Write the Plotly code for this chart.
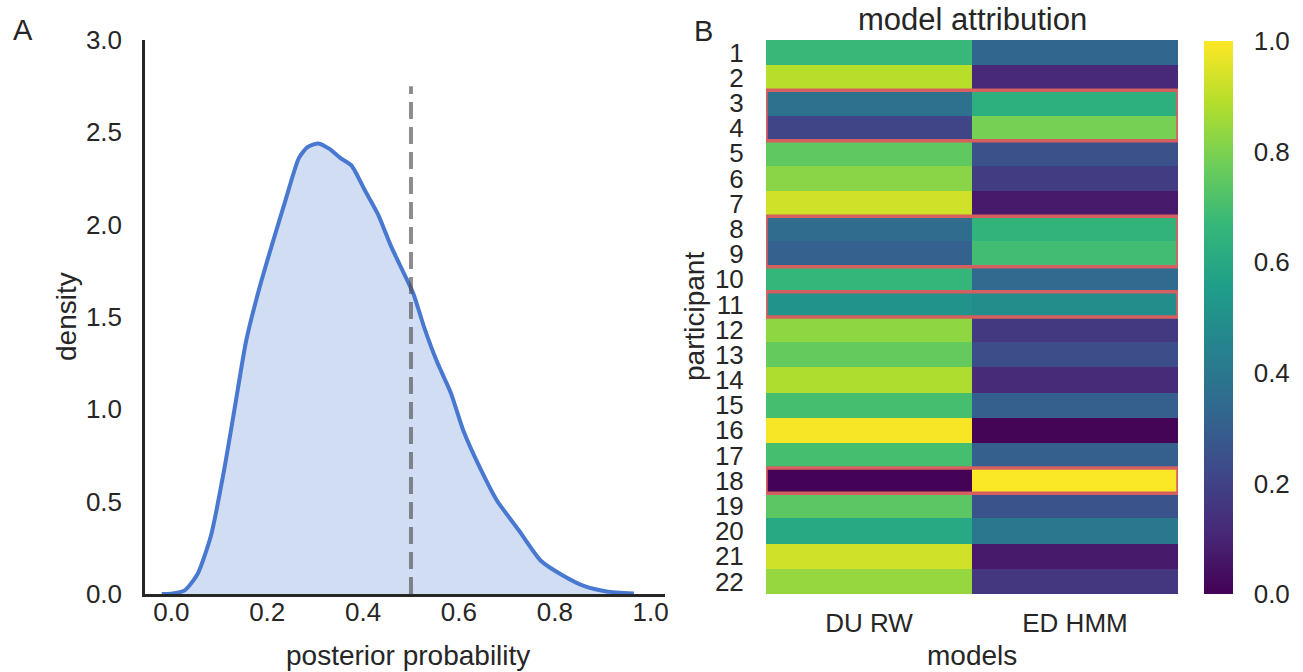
import plotly.graph_objects as go

# ---------------- data ----------------
kde_x = [-0.02, 0.0, 0.028, 0.055, 0.083, 0.11, 0.133, 0.156, 0.183, 0.211,
         0.239, 0.266, 0.284, 0.307, 0.330, 0.353, 0.376, 0.404, 0.431, 0.459,
         0.482, 0.505, 0.528, 0.555, 0.583, 0.610, 0.642, 0.679, 0.725, 0.771,
         0.817, 0.862, 0.908, 0.965]
kde_y = [0.0, 0.002, 0.02, 0.11, 0.32, 0.67, 1.02, 1.37, 1.65, 1.90,
         2.14, 2.36, 2.42, 2.44, 2.41, 2.36, 2.32, 2.185, 2.057, 1.88,
         1.754, 1.626, 1.44, 1.253, 1.09, 0.88, 0.694, 0.508, 0.345, 0.18,
         0.10, 0.042, 0.014, 0.003]
threshold_x = 0.5
threshold_top = 2.75

participants = list(range(1, 23))
models = ["DU RW", "ED HMM"]
du_rw = [0.67, 0.89, 0.37, 0.21, 0.75, 0.82, 0.93, 0.35, 0.31, 0.66, 0.51,
         0.83, 0.76, 0.88, 0.70, 0.99, 0.70, 0.005, 0.74, 0.60, 0.93, 0.84]
ed_hmm = [0.33, 0.11, 0.63, 0.79, 0.25, 0.18, 0.07, 0.65, 0.69, 0.34, 0.49,
          0.17, 0.24, 0.12, 0.30, 0.01, 0.30, 0.995, 0.26, 0.40, 0.07, 0.16]
highlight_groups = [(3, 4), (8, 9), (11, 11), (18, 18)]

x_ticks = [0.0, 0.2, 0.4, 0.6, 0.8, 1.0]
y_ticks = [0.0, 0.5, 1.0, 1.5, 2.0, 2.5, 3.0]
cbar_ticks = [0.0, 0.2, 0.4, 0.6, 0.8, 1.0]

# ---------------- figure ----------------
W, H = 1303, 672
FONT = "Liberation Sans, Arial, sans-serif"
TXT = "#262626"
TICK = 26
LAB = 28
TITLE = 31
LETTER = 29


def px_x(p):
    return p / W


def px_y(p):
    return 1 - p / H


fig = go.Figure()

fig.add_trace(go.Scatter(
    x=kde_x, y=kde_y, mode="lines",
    line=dict(color="#4878d0", width=4, shape="spline", smoothing=0.6),
    fill="tozeroy", fillcolor="rgba(72,120,208,0.25)", xaxis="x", yaxis="y",
    showlegend=False, hoverinfo="skip"))

fig.add_trace(go.Scatter(
    x=[threshold_x, threshold_x], y=[0, threshold_top], mode="lines",
    line=dict(color="rgba(80,80,80,0.65)", width=4, dash="17px,8px"),
    xaxis="x", yaxis="y", showlegend=False, hoverinfo="skip"))

z = [[a, b] for a, b in zip(du_rw, ed_hmm)]
fig.add_trace(go.Heatmap(
    z=z, x=[0, 1], y=participants, colorscale="Viridis", zmin=0, zmax=1,
    xaxis="x2", yaxis="y2", xgap=0, ygap=0,
    colorbar=dict(
        x=px_x(1204), xanchor="left", xpad=0, ypad=0,
        thickness=29, thicknessmode="pixels",
        y=px_y(594), yanchor="bottom", len=(594 - 41) / H, lenmode="fraction",
        outlinewidth=0, tickvals=cbar_ticks, ticktext=[f"{v:.1f}" for v in cbar_ticks],
        ticks="outside", ticklen=16, tickcolor="rgba(0,0,0,0)",
        tickfont=dict(size=TICK, color=TXT, family=FONT)),
    hoverinfo="skip"))

shapes = []
for a, b in highlight_groups:
    shapes.append(dict(type="rect", xref="x2", yref="y2", x0=-0.5, x1=1.5,
                       y0=a - 0.5, y1=b + 0.5,
                       line=dict(color="#d65f5f", width=3.5), fillcolor="rgba(0,0,0,0)"))

axis_common = dict(showgrid=False, zeroline=False, showline=True, linecolor="#262626",
                   linewidth=2.5, tickcolor="rgba(0,0,0,0)",
                   tickfont=dict(size=TICK, color=TXT, family=FONT))


def label(text, x, y, size, angle=0):
    return dict(text=text, x=px_x(x), y=px_y(y), xref="paper", yref="paper",
                textangle=angle, showarrow=False,
                font=dict(size=size, color=TXT, family=FONT),
                xanchor="center", yanchor="middle")


fig.update_layout(
    width=W, height=H, margin=dict(l=0, r=0, t=0, b=0, autoexpand=False),
    paper_bgcolor="white", plot_bgcolor="white",
    font=dict(family=FONT, color=TXT),
    xaxis=dict(domain=[px_x(145), px_x(665)], range=[-0.055, 1.03], anchor="y",
               tickvals=x_ticks, ticktext=[f"{v:.1f}" for v in x_ticks],
               ticks="", ticklabelstandoff=-7,
               **axis_common),
    yaxis=dict(domain=[px_y(594), px_y(40)], range=[0, 3.0], anchor="x",
               tickvals=y_ticks, ticktext=[f"{v:.1f}" for v in y_ticks],
               ticks="outside", ticklen=15,
               **axis_common),
    xaxis2=dict(domain=[px_x(766), px_x(1178)], range=[-0.5, 1.5], anchor="y2",
                tickvals=[0, 1], ticktext=models, showgrid=False, zeroline=False,
                showline=False, ticks="outside", ticklen=6, tickcolor="rgba(0,0,0,0)",
                tickfont=dict(size=TICK, color=TXT, family=FONT)),
    yaxis2=dict(domain=[px_y(594), px_y(40)], range=[22.5, 0.5], anchor="x2",
                tickvals=participants, ticktext=[str(p) for p in participants],
                showgrid=False, zeroline=False, showline=False, ticks="outside",
                ticklen=16, tickcolor="rgba(0,0,0,0)",
                tickfont=dict(size=TICK, color=TXT, family=FONT)),
    shapes=shapes,
    annotations=[
        label("posterior probability", 408, 655, LAB),
        label("density", 66, 317, LAB, -90),
        label("models", 972, 655, LAB),
        label("participant", 694, 317, LAB, -90),
        label("model attribution", 972, 19, TITLE),
        label("A", 23, 30, LETTER),
        label("B", 703, 31, LETTER),
    ],
)

fig.write_html("out.html")
